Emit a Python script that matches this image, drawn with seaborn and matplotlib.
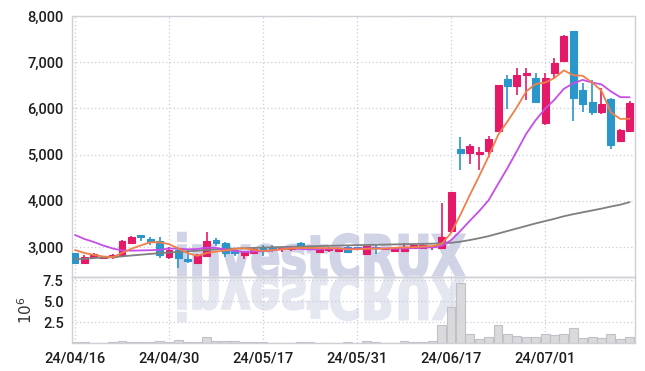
import numpy as np
import pandas as pd
import matplotlib
matplotlib.use("Agg")
import matplotlib.pyplot as plt
import seaborn as sns
from matplotlib.textpath import TextPath
from matplotlib.patches import PathPatch
from matplotlib.transforms import Affine2D, IdentityTransform
from matplotlib.font_manager import FontProperties
from matplotlib.ticker import FuncFormatter

# trading days 2024/04/16 - 2024/07/12
dates = ["24/04/16", "24/04/17", "24/04/18", "24/04/19", "24/04/22", "24/04/23", "24/04/24", "24/04/25",
         "24/04/26", "24/04/29", "24/04/30", "24/05/02", "24/05/03", "24/05/07", "24/05/08", "24/05/09",
         "24/05/10", "24/05/13", "24/05/14", "24/05/16", "24/05/17", "24/05/20", "24/05/21", "24/05/22",
         "24/05/23", "24/05/24", "24/05/27", "24/05/28", "24/05/29", "24/05/30", "24/05/31", "24/06/03",
         "24/06/04", "24/06/05", "24/06/07", "24/06/10", "24/06/11", "24/06/12", "24/06/13", "24/06/14",
         "24/06/17", "24/06/18", "24/06/19", "24/06/20", "24/06/21", "24/06/24", "24/06/25", "24/06/26",
         "24/06/27", "24/06/28", "24/07/01", "24/07/02", "24/07/03", "24/07/04", "24/07/05", "24/07/08",
         "24/07/09", "24/07/10", "24/07/11", "24/07/12"]

opens = [2877, 2660, 2777, 2770, 2777, 2830, 3093, 3260, 3173, 3130,
         2777, 2935, 2740, 2660, 2805, 3150, 3093, 2935, 2830, 2877,
         2993, 3000, 2950, 2960, 3093, 3020, 2900, 2945, 2920, 3006,
         2990, 2840, 2990, 2950, 2920, 2920, 2985, 2972, 2990, 2985,
         3353, 5120, 5028, 5007, 5085, 5518, 6630, 6492, 6730, 6653,
         5692, 6774, 7027, 7670, 6400, 6146, 5930, 6204, 5300, 5518]
highs = [2880, 2827, 2860, 2790, 2840, 3150, 3240, 3260, 3215, 3210,
         2990, 2950, 2925, 2850, 3330, 3200, 3100, 2950, 2910, 2970,
         3050, 3050, 3000, 3020, 3110, 3030, 2970, 2990, 2970, 3020,
         3010, 3030, 3040, 2980, 2990, 3092, 3060, 3060, 3015, 3946,
         4197, 5375, 5230, 5160, 5400, 6507, 6724, 6870, 6870, 6760,
         6760, 7100, 7580, 7670, 6550, 6615, 6435, 6230, 5560, 6160]
lows = [2655, 2650, 2734, 2750, 2734, 2820, 3060, 3136, 3050, 2770,
        2750, 2545, 2650, 2640, 2780, 3020, 2780, 2800, 2740, 2860,
        2800, 2900, 2900, 2920, 2990, 2940, 2890, 2900, 2910, 2890,
        2950, 2830, 2850, 2930, 2910, 2910, 2970, 2960, 2940, 2960,
        3300, 4667, 4800, 4667, 4950, 5518, 5980, 6290, 6180, 6146,
        5650, 6650, 7027, 5735, 5930, 5860, 5880, 5115, 5270, 5518]
closes = [2660, 2777, 2850, 2775, 2830, 3130, 3223, 3210, 3115, 2820,
          2935, 2755, 2703, 2827, 3130, 3080, 2877, 2877, 2900, 2950,
          2963, 2965, 2970, 2985, 3006, 2963, 2963, 2955, 2960, 2900,
          2970, 3020, 2975, 2960, 2985, 3006, 3050, 3050, 3006, 3210,
          4197, 5028, 5187, 5057, 5338, 6507, 6492, 6724, 6774, 6146,
          6653, 6990, 7558, 6233, 6096, 5930, 6096, 5208, 5533, 6110]

ma5 = [2935, 2870, 2827, 2795, 2778, 2872, 2962, 3034, 3102, 3100,
       3061, 2967, 2866, 2808, 2870, 2899, 2923, 2958, 2973, 2937,
       2913, 2931, 2950, 2967, 2978, 2978, 2977, 2974, 2969, 2948,
       2950, 2961, 2965, 2965, 2982, 2989, 2995, 3010, 3019, 3064,
       3303, 3698, 4126, 4536, 4961, 5423, 5716, 6024, 6367, 6529,
       6558, 6657, 6824, 6716, 6706, 6561, 6383, 5913, 5773, 5775]
ma10 = [3260, 3173, 3108, 3032, 2968, 2924, 2920, 2925, 2930, 2939,
        2967, 2964, 2950, 2955, 2985, 2980, 2945, 2912, 2890, 2903,
        2906, 2927, 2954, 2970, 2957, 2946, 2954, 2962, 2968, 2963,
        2964, 2969, 2970, 2967, 2965, 2969, 2978, 2988, 2992, 3023,
        3146, 3347, 3568, 3778, 4013, 4363, 4707, 5075, 5451, 5745,
        5991, 6187, 6424, 6542, 6617, 6560, 6520, 6368, 6244, 6241]
ma60 = [2735, 2745, 2760, 2770, 2780, 2797, 2815, 2833, 2850, 2866,
        2880, 2893, 2906, 2920, 2934, 2948, 2958, 2966, 2973, 2980,
        2987, 2993, 2999, 3005, 3010, 3015, 3020, 3025, 3030, 3035,
        3040, 3044, 3048, 3052, 3056, 3060, 3064, 3068, 3072, 3078,
        3090, 3115, 3150, 3190, 3235, 3290, 3345, 3400, 3455, 3510,
        3560, 3610, 3665, 3710, 3750, 3790, 3830, 3875, 3915, 3970]

# volume in millions of shares
volume = [0.10, 0.06, 0.05, 0.05, 0.08, 0.24, 0.12, 0.06, 0.08, 0.24,
          0.12, 0.36, 0.15, 0.12, 0.68, 0.24, 0.24, 0.20, 0.08, 0.06,
          0.08, 0.05, 0.04, 0.05, 0.08, 0.06, 0.05, 0.04, 0.05, 0.06,
          0.05, 0.24, 0.06, 0.04, 0.05, 0.24, 0.08, 0.06, 0.24, 2.20,
          4.30, 7.10, 1.07, 0.48, 0.68, 2.14, 1.07, 0.83, 0.68, 0.68,
          1.07, 0.95, 1.07, 1.75, 0.56, 0.68, 0.56, 1.07, 0.44, 0.68]

df = pd.DataFrame({"date": dates, "open": opens, "high": highs, "low": lows,
                   "close": closes, "ma5": ma5, "ma10": ma10, "ma60": ma60, "vol": volume})
df["i"] = np.arange(len(df))
df["up"] = df["close"] >= df["open"]

UP = "#e41a69"
DOWN = "#2b96c9"
GRID = "#cbccdc"
SPINE = "#cfd0d6"

sns.set_style("whitegrid")
plt.rcParams["font.family"] = ["Roboto", "DejaVu Sans"]
plt.rcParams["font.weight"] = "medium"

W, H = 645, 371
fig = plt.figure(figsize=(W / 100, H / 100), dpi=100)
ax = fig.add_axes([72 / W, 1 - 277 / H, (635 - 72) / W, (277 - 16) / H])
axv = fig.add_axes([72 / W, 1 - 343 / H, (635 - 72) / W, (343 - 277) / H], sharex=ax)

for a in (ax, axv):
    a.set_facecolor("none")
    a.grid(True, color=GRID, linestyle=(0, (1, 2)), linewidth=0.9)
    a.set_axisbelow(True)
    for s in a.spines.values():
        s.set_color(SPINE)
        s.set_linewidth(1.0)
    a.tick_params(length=0, labelsize=10.5, colors="#1e1e1e", pad=6)

# watermark (text + mirrored reflection)
tp = TextPath((0, 0), "investCRUX", size=100, prop=FontProperties(family="DejaVu Sans", weight="bold"))
ext = tp.get_extents()
sx = (465 - 178) / ext.width
sy = 45 / ext.height
main_tr = Affine2D().translate(-ext.x0, 0).scale(sx, sy).translate(178, H - 277)
refl_tr = Affine2D().translate(-ext.x0, 0).scale(sx, -sy).translate(178, H - 277)
fig.add_artist(PathPatch(main_tr.transform_path(tp), transform=IdentityTransform(),
                         facecolor="#d0d4e6", edgecolor="#d0d4e6", linewidth=1.5, zorder=-1))
fig.add_artist(PathPatch(refl_tr.transform_path(tp), transform=IdentityTransform(),
                         facecolor="#e5e7f0", edgecolor="#e5e7f0", linewidth=1.5, zorder=-1))

# candles
cols = np.where(df["up"], UP, DOWN)
ax.vlines(df["i"], df["low"], df["high"], colors=cols, linewidth=1.2, zorder=2)
body_lo = np.minimum(df["open"], df["close"])
body_h = np.abs(df["close"] - df["open"])
ax.bar(df["i"], body_h, bottom=body_lo, width=0.74, color=cols, edgecolor=cols,
       linewidth=0.8, zorder=3)

# moving averages
sns.lineplot(data=df, x="i", y="ma60", ax=ax, color="#7f7f7f", linewidth=1.3, zorder=4)
sns.lineplot(data=df, x="i", y="ma10", ax=ax, color="#c64ee8", linewidth=1.3, zorder=5)
sns.lineplot(data=df, x="i", y="ma5", ax=ax, color="#f07f48", linewidth=1.3, zorder=6)

ax.set_ylim(2350, 8000)
ax.set_yticks([3000, 4000, 5000, 6000, 7000, 8000])
ax.yaxis.set_major_formatter(FuncFormatter(lambda v, p: f"{int(v):,}"))
ax.set_xlabel("")
ax.set_ylabel("")
ax.tick_params(axis="x", labelbottom=False)

# volume
sns.barplot(x=df["i"], y=df["vol"], native_scale=True, ax=axv, color="#d6d6da",
            edgecolor="#bdbdc4", linewidth=0.8, width=0.95, saturation=1, alpha=0.9, zorder=2)
axv.set_ylim(0, 7.86)
axv.set_yticks([2.5, 5.0, 7.5])
axv.set_yticklabels(["2.5", "5.0", "7.5"])
axv.set_ylabel("$10^6$", fontsize=11, color="#333333", family="DejaVu Sans", labelpad=6)
axv.set_xlabel("")

tick_pos = list(range(0, len(dates), 10))
axv.set_xticks(tick_pos)
axv.set_xticklabels([dates[k] for k in tick_pos])
axv.set_xlim(-0.32, 59.57)

fig.savefig("out.png", dpi=100, facecolor="white")
